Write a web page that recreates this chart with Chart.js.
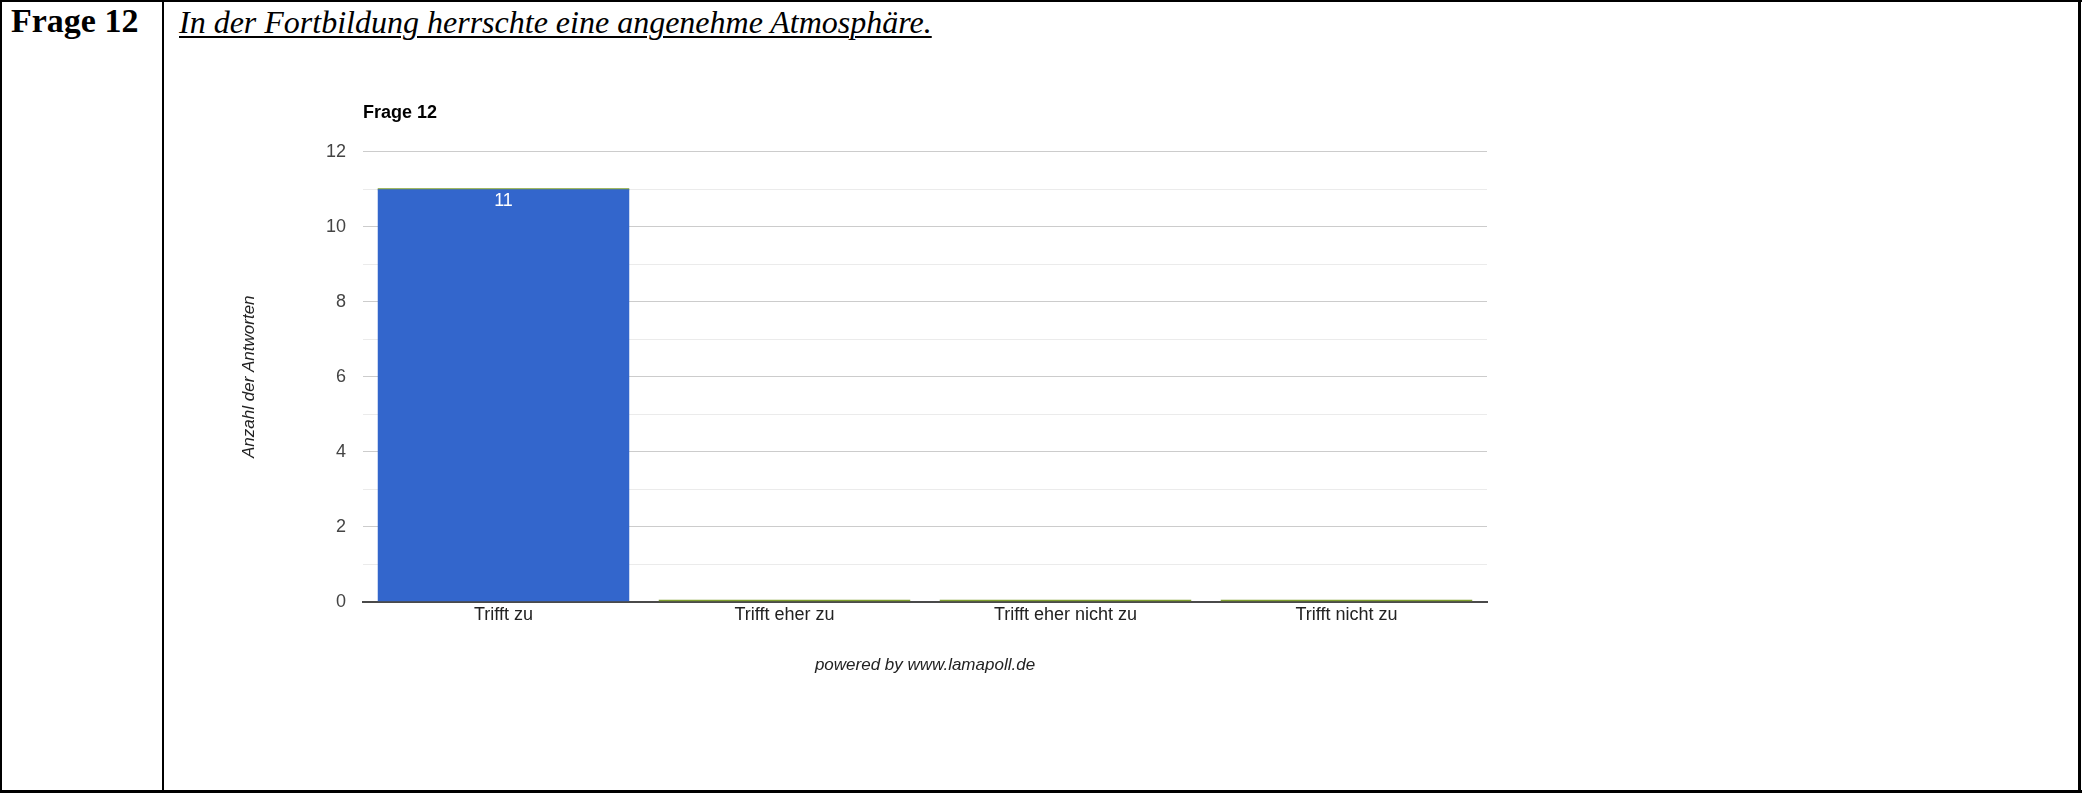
<!DOCTYPE html>
<html>
<head>
<meta charset="utf-8">
<script src="https://cdn.jsdelivr.net/npm/chart.js@4"></script>
<style>
  html, body { margin: 0; padding: 0; background: #fff; }
  body { width: 2082px; height: 795px; position: relative; overflow: hidden; }
  .line { position: absolute; background: #000; }
  .q { position: absolute; left: 11px; top: 5px; font: bold 34px/32px "Liberation Serif", "Times New Roman", serif; color: #000; white-space: nowrap; }
  .h { position: absolute; left: 179px; top: 6px; font: italic 32px/32px "Liberation Serif", "Times New Roman", serif; color: #000; text-decoration: underline; text-decoration-thickness: 2px; text-underline-offset: 3px; white-space: nowrap; }
  #wrap { position: absolute; left: 200px; top: 90px; width: 1400px; height: 640px; }
</style>
</head>
<body>
<div class="line" style="left:0;top:0;width:2082px;height:2px"></div>
<div class="line" style="left:0;top:790px;width:2082px;height:3px"></div>
<div class="line" style="left:0;top:0;width:2px;height:793px"></div>
<div class="line" style="left:2078px;top:0;width:3px;height:793px"></div>
<div class="line" style="left:162px;top:0;width:2px;height:793px"></div>
<div class="q">Frage 12</div>
<div class="h">In der Fortbildung herrschte eine angenehme Atmosphäre.</div>
<div id="wrap"><canvas id="c" width="1400" height="640"></canvas></div>
<script>
const chartTitle = "Frage 12";
const categories = ["Trifft zu", "Trifft eher zu", "Trifft eher nicht zu", "Trifft nicht zu"];
const answerCounts = [11, 0, 0, 0];
const secondSeries = [0, 0, 0, 0];
const yTickValues = [0, 2, 4, 6, 8, 10, 12];
const yAxisTitle = "Anzahl der Antworten";
const footerText = "powered by www.lamapoll.de";

const FONT = '"Liberation Sans", Arial, sans-serif';

const valueLabels = {
  id: 'valueLabels',
  afterDatasetsDraw(chart) {
    const ctx = chart.ctx;
    const meta = chart.getDatasetMeta(0);
    ctx.save();
    ctx.font = '18px ' + FONT;
    ctx.fillStyle = '#ffffff';
    ctx.textAlign = 'center';
    ctx.textBaseline = 'middle';
    meta.data.forEach((el, i) => {
      const v = chart.data.datasets[0].data[i];
      if (v > 0) ctx.fillText(String(v), el.x, el.y + 12);
    });
    ctx.restore();
  }
};

new Chart(document.getElementById('c'), {
  type: 'bar',
  data: {
    labels: categories,
    datasets: [
      {
        data: answerCounts,
        backgroundColor: '#3366cc',
        borderWidth: 0,
        categoryPercentage: 1.0,
        barPercentage: 0.895
      },
      {
        data: secondSeries,
        backgroundColor: '#7f9f2f',
        borderWidth: 0,
        minBarLength: 2,
        categoryPercentage: 1.0,
        barPercentage: 0.895
      }
    ]
  },
  options: {
    responsive: false,
    animation: false,
    events: [],
    layout: { padding: { left: 0, right: 113, top: 0, bottom: 28.3 } },
    plugins: {
      legend: { display: false },
      tooltip: { enabled: false },
      title: {
        display: true,
        text: chartTitle,
        align: 'start',
        fullSize: false,
        color: '#000',
        font: { family: FONT, size: 18, weight: 'bold' },
        padding: { top: 12.2, bottom: 27.9 }
      }
    },
    scales: {
      x: {
        stacked: true,
        grid: { display: false, drawTicks: false },
        border: { display: true, color: '#4a4a4a', width: 2 },
        ticks: { color: '#222', font: { family: FONT, size: 18 }, padding: 3, maxRotation: 0, autoSkip: false },
        title: {
          display: true,
          text: footerText,
          color: '#222',
          font: { family: FONT, size: 17, style: 'italic' },
          padding: { top: 0, bottom: 26.5 }
        },
        afterFit(scale) { scale.height = 100; }
      },
      y: {
        stacked: true,
        min: 0,
        max: 12,
        grid: {
          drawTicks: false,
          lineWidth: 1,
          color: (c) => {
            const v = c.tick.value;
            if (v === 0) return 'rgba(0,0,0,0)';
            return yTickValues.includes(v) ? '#cccccc' : '#ebebeb';
          }
        },
        border: { display: false },
        ticks: {
          stepSize: 1,
          color: '#444',
          padding: 17,
          font: { family: FONT, size: 18 },
          callback: (v) => (yTickValues.includes(v) ? String(v) : '')
        },
        title: {
          display: true,
          text: yAxisTitle,
          color: '#222',
          font: { family: FONT, size: 17, style: 'italic' },
          padding: { top: 39, bottom: 0 }
        },
        afterFit(scale) { scale.width = 163; }
      }
    }
  },
  plugins: [valueLabels]
});
</script>
</body>
</html>
